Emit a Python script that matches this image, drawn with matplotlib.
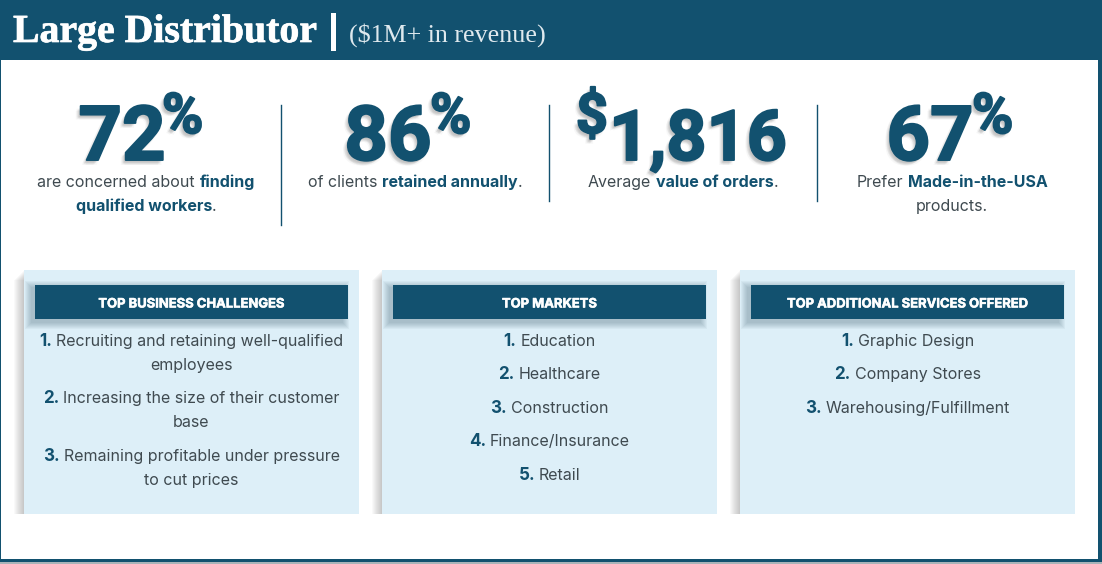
import matplotlib
matplotlib.use('Agg')
import matplotlib.pyplot as plt
import matplotlib.patheffects as pe
from matplotlib.patches import Rectangle

NAVY = '#12516f'
PANEL = '#ddeff8'
GREY = '#3f4a50'

title_main = 'Large Distributor'
title_sub = '($1M+ in revenue)'

stat_values = ['72', '86', '1,816', '67']
stat_suffix = ['%', '%', '', '%']
stat_prefix = ['', '', '$', '']
# each line is a list of (text, is_bold)
stat_text = [
    [[('are concerned about', False), ('finding', True)], [('qualified workers', True), ('.', None)]],
    [[('of clients', False), ('retained annually', True), ('.', None)]],
    [[('Average', False), ('value of orders', True), ('.', None)]],
    [[('Prefer', False), ('Made-in-the-USA', True)], [('products.', False)]],
]

panel_titles = ['TOP BUSINESS CHALLENGES', 'TOP MARKETS', 'TOP ADDITIONAL SERVICES OFFERED']
challenges = [['Recruiting and retaining well-qualified', 'employees'],
              ['Increasing the size of their customer', 'base'],
              ['Remaining profitable under pressure', 'to cut prices']]
markets = [['Education'], ['Healthcare'], ['Construction'], ['Finance/Insurance'], ['Retail']]
services = [['Graphic Design'], ['Company Stores'], ['Warehousing/Fulfillment']]
panel_items = [challenges, markets, services]

# layout, in pixels of the 1102x564 picture
text_centers = [146, 415, 683, 952]
number_centers = [122, 388, 698, 930]
number_sizes = [76, 76, 70, 76]
suffix_left = [162, 430, 0, 972]
divider_x = [281, 549, 817]
divider_bottom = [225, 201, 201]
panel_left = [24, 382, 740]
item_y = [[341, 398, 456], [341, 374, 408, 441, 475], [341, 374, 408]]

fig = plt.figure(figsize=(11.02, 5.64), dpi=100, facecolor='white')
ax = fig.add_axes([0, 0, 1, 1])
ax.set_xlim(0, 1102)
ax.set_ylim(564, 0)
ax.axis('off')
BODY = 'Inter'

# blurred text shadow, down and to the left, then a thin stroke for weight
SHADOW = [pe.SimplePatchShadow(offset=(dx, dy), shadow_rgbFace='#444444', alpha=a)
          for dx, dy, a in [(-3.5, -3.5, 0.04), (-3, -2, 0.04), (-1, -3.5, 0.04), (-2.5, -3, 0.06),
                            (-2, -2.5, 0.06), (-1.5, -2, 0.06), (-1, -1.5, 0.06)]]
SHADOW += [pe.withStroke(linewidth=1.4, foreground=NAVY)]


def px(size):
    return size * 0.72


def rect(x0, y0, x1, y1, color, alpha=1, z=1):
    ax.add_patch(Rectangle((x0, y0), x1 - x0, y1 - y0, fc=color, ec='none', alpha=alpha, zorder=z))


def text_width(t):
    return t.get_window_extent(fig.canvas.get_renderer()).width


def draw_runs(cx, y, runs, gap=4):
    # centred line built from pieces with different weights
    pieces = []
    for txt, style, size, color in runs:
        weight = 'bold' if style else 'normal'
        t = ax.text(0, y, txt, family=BODY, fontsize=px(size), fontweight=weight, color=color,
                    ha='left', va='baseline', zorder=6)
        pieces.append((t, text_width(t), txt))
    total = sum(p[1] for p in pieces)
    for i in range(1, len(pieces)):
        if pieces[i][2] != '.':
            total += gap
    x = cx - total / 2
    for i, (t, w, txt) in enumerate(pieces):
        if i > 0 and txt != '.':
            x += gap
        t.set_x(x)
        x += w


def big_text(x, y, s, size, ha):
    return ax.text(x, y, s, family='Roboto', fontsize=px(size), fontweight='bold', color=NAVY,
                   ha=ha, va='baseline', zorder=4, path_effects=SHADOW)


# frame and header
rect(0, 0, 1102, 60, NAVY, z=2)
rect(0, 0, 1, 564, NAVY, z=2)
rect(1098, 0, 1102, 564, NAVY, z=2)
rect(0, 559, 1102, 562, NAVY, z=2)
rect(0, 562, 1102, 564, '#a9b4b9', z=2)

ax.text(13, 42, title_main, family='Liberation Serif', fontsize=px(39.8), fontweight='bold',
        color='white', ha='left', va='baseline', zorder=5,
        path_effects=[pe.withStroke(linewidth=0.5, foreground='white')])
rect(331, 13, 336, 51, 'white', z=5)
ax.text(349, 42, title_sub, family='Liberation Serif', fontsize=px(26), color='#dfe9ee',
        ha='left', va='baseline', zorder=5)

# top stats
for i in range(4):
    big_text(number_centers[i], 160, stat_values[i], number_sizes[i], 'center')
    if stat_suffix[i]:
        big_text(suffix_left[i], 133, stat_suffix[i], 56, 'left')
    if stat_prefix[i]:
        big_text(608, 133, stat_prefix[i], 56, 'right')
    for j, line in enumerate(stat_text[i]):
        runs = []
        for txt, bold in line:
            color = NAVY if bold else GREY
            runs.append((txt, bool(bold), 16, color))
        draw_runs(text_centers[i], 187 + j * 24, runs, gap=5)

for x, bottom in zip(divider_x, divider_bottom):
    ax.plot([x, x], [105, bottom], color=NAVY, lw=1, zorder=2)

# lower panels
for k, left in enumerate(panel_left):
    # shadow on the left edge, cut off at the panel bottom
    for i in range(1, 11):
        rect(left - i, 270 + i, left, 514, '#555555', 0.035, 1)
    rect(left, 270, left + 335, 514, PANEL, z=2)
    for i in range(1, 8):
        rect(left + 8 - i, 288 - i, left + 318 + i, 322 + i, '#3a5a6a', 0.05, 3)
    rect(left + 11, 285, left + 324, 319, NAVY, z=4)
    ax.text(left + 167.5, 307.5, panel_titles[k], family=BODY, fontsize=px(13), fontweight='bold', color='white',
            ha='center', va='baseline', zorder=6,
            path_effects=[pe.withStroke(linewidth=0.4, foreground='white')])
    for n, item in enumerate(panel_items[k]):
        y0 = item_y[k][n]
        draw_runs(left + 167.5, y0 + 5, [(f'{n + 1}.', True, 17, NAVY), (item[0], False, 16, GREY)], gap=4)
        if len(item) > 1:
            draw_runs(left + 167.5, y0 + 29, [(item[1], False, 16, GREY)])

fig.savefig('out.png', dpi=100, facecolor='white')
